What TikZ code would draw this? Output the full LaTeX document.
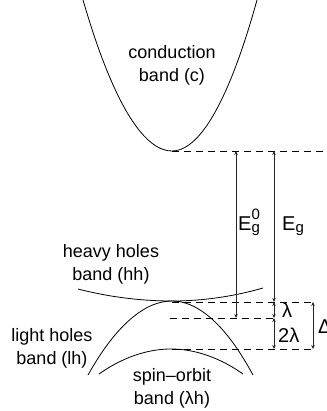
\documentclass[tikz,border=0pt]{standalone}
\usepackage{fontspec}
\setmainfont{Liberation Sans}
\usetikzlibrary{arrows.meta}
\tikzset{
  band/.style={line width=0.8pt},
  lvl/.style={line width=0.7pt, dash pattern=on 7pt off 5pt},
  gap/.style={line width=0.7pt, draw=black!85, {Stealth[length=4pt,width=3.5pt]}-{Stealth[length=4pt,width=3.5pt]}},
  lbl/.style={font=\fontsize{18}{23}\selectfont, align=center, inner sep=0pt},
  sym/.style={font=\fontsize{20}{24}\selectfont, inner sep=0pt, anchor=base west}
}
\begin{document}
\begin{tikzpicture}[x=1pt,y=-1pt]
\useasboundingbox (0,0) rectangle (326,411);
% bands
\draw[band] (83,0) parabola bend (172,151) (257,0);
\draw[band] (78,289) parabola bend (172,301) (263,288);
\draw[band] (88,375) parabola bend (172,301) (253,375);
\draw[band] (99,374) parabola bend (171,349) (243,374);
% level coordinates
\coordinate (cmin) at (172,151);
\coordinate (cR) at (326,151);
\coordinate (vtop) at (172,302);
\coordinate (vtopR) at (313,302);
\coordinate (lhL) at (170,318);
\coordinate (lhR) at (274,318);
\coordinate (soL) at (172,349);
\coordinate (soR) at (313,349);
\coordinate (a0t) at (236,151);
\coordinate (a0b) at (236,318);
\coordinate (a1t) at (274,151);
\coordinate (a1b) at (274,302);
\coordinate (a2b) at (274,349);
\coordinate (dt) at (313,302);
\coordinate (db) at (313,349);
% dashed levels
\draw[lvl] (cmin) -- (cR);
\draw[lvl] (vtop) -- (vtopR);
\draw[lvl] (lhL) -- (lhR);
\draw[lvl] (soL) -- (soR);
% arrows
\draw[gap] (a0t) -- (a0b);
\draw[gap] (a1t) -- (a1b);
\draw[gap] (a1b) -- (lhR);
\draw[gap] (lhR) -- (a2b);
\draw[gap] (dt) -- (db);
% labels
\node[lbl] (cb) at (172,65) {conduction\\band (c)};
\node[lbl] (hh) at (111,264) {heavy holes\\band (hh)};
\node[lbl] (lh) at (52,348) {light holes\\band (lh)};
\node[lbl] (so) at (172,388) {spin–orbit\\band (λh)};
\node[sym] (eg0) at (238,230) {E\rlap{\raisebox{-2pt}{\fontsize{15}{15}\selectfont g}}\raisebox{11pt}{\fontsize{15}{15}\selectfont 0}};
\node[sym] (eg) at (282,230) {E\raisebox{-2pt}{\fontsize{15}{15}\selectfont g}};
\node[sym] (lam) at (282,317) {λ};
\node[sym] (lam2) at (278,342) {2λ};
\node[sym] (del) at (318,333) {Δ};
\end{tikzpicture}
\end{document}
